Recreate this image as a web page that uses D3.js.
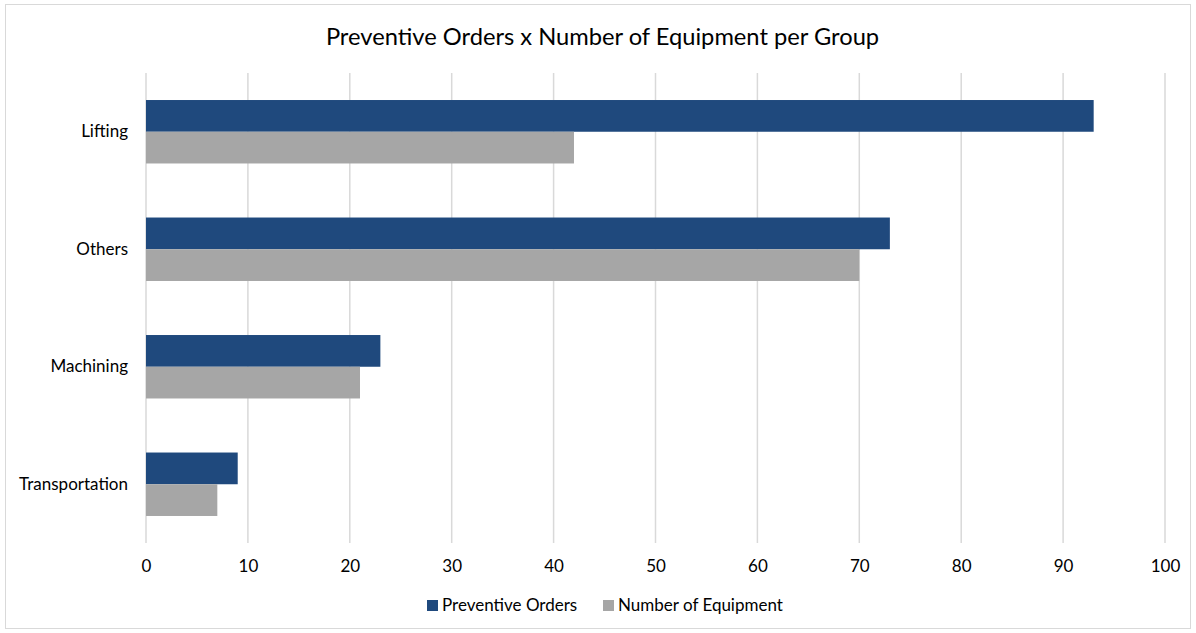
<!DOCTYPE html>
<html>
<head>
<meta charset="utf-8">
<script src="https://cdn.jsdelivr.net/npm/d3@7"></script>
<style>
  html, body { margin: 0; padding: 0; background: #fff; }
  svg { display: block; font-family: "Lato", "Open Sans", sans-serif; }
</style>
</head>
<body>
<svg id="chart" width="1196" height="633"></svg>
<script>
// Groups, top to bottom
const categories = ["Lifting", "Others", "Machining", "Transportation"];
const seriesNames = ["Preventive Orders", "Number of Equipment"];
const preventiveOrders = [93, 73, 23, 9];
const numberOfEquipment = [42, 70, 21, 7];
const xTicks = [0, 10, 20, 30, 40, 50, 60, 70, 80, 90, 100];
const seriesColors = ["#1f497d", "#a6a6a6"];

const svg = d3.select("#chart");
const W = 1196, H = 633;
const plot = { left: 146, right: 1165, top: 73, bottom: 543 };

// chart frame
svg.append("rect")
  .attr("x", 5.5).attr("y", 4.5)
  .attr("width", W - 11).attr("height", H - 9)
  .attr("fill", "#fff").attr("stroke", "#d9d9d9").attr("stroke-width", 1);

svg.append("text")
  .attr("x", 602.5).attr("y", 45)
  .attr("text-anchor", "middle")
  .attr("font-size", 23.7).attr("fill", "#000")
  .text("Preventive Orders x Number of Equipment per Group");

const x = d3.scaleLinear().domain([0, 100]).range([plot.left, plot.right]);
const y = d3.scaleBand().domain(categories).range([plot.top, plot.bottom]).paddingInner(0.46).paddingOuter(0.23);
const sub = d3.scaleBand().domain(seriesNames).range([0, y.bandwidth()]);

// vertical gridlines
svg.append("g").selectAll("line").data(xTicks).join("line")
  .attr("x1", d => x(d)).attr("x2", d => x(d))
  .attr("y1", plot.top).attr("y2", plot.bottom)
  .attr("stroke", "#d9d9d9").attr("stroke-width", 1.5);

// x tick labels
const xAxis = d3.axisBottom(x).tickValues(xTicks).tickSize(0).tickPadding(0);
const gx = svg.append("g").attr("transform", `translate(0,${plot.bottom + 29})`).call(xAxis);
gx.select(".domain").remove();
gx.selectAll("text").attr("font-size", 17).attr("fill", "#000")
  .attr("font-family", "Lato, 'Open Sans', sans-serif").attr("dy", 0);

// y category labels
const yAxis = d3.axisLeft(y).tickSize(0).tickPadding(18);
const gy = svg.append("g").attr("transform", `translate(${plot.left},0)`).call(yAxis);
gy.select(".domain").remove();
gy.selectAll("text").attr("font-size", 17).attr("fill", "#000")
  .attr("font-family", "Lato, 'Open Sans', sans-serif");

// bars
const rows = categories.map((c, i) => ({ cat: c, vals: [preventiveOrders[i], numberOfEquipment[i]] }));
const groups = svg.append("g").selectAll("g").data(rows).join("g")
  .attr("transform", d => `translate(0,${y(d.cat)})`);
groups.selectAll("rect").data(d => d.vals.map((v, j) => ({ v, s: seriesNames[j], j })))
  .join("rect")
  .attr("x", x(0))
  .attr("y", d => sub(d.s))
  .attr("width", d => x(d.v) - x(0))
  .attr("height", sub.bandwidth())
  .attr("fill", d => seriesColors[d.j]);

// legend
const legendItems = [
  { name: seriesNames[0], color: seriesColors[0], x: 427 },
  { name: seriesNames[1], color: seriesColors[1], x: 603 }
];
const lg = svg.append("g");
legendItems.forEach(it => {
  lg.append("rect").attr("x", it.x).attr("y", 600).attr("width", 11).attr("height", 11).attr("fill", it.color);
  lg.append("text").attr("x", it.x + 15).attr("y", 611)
    .attr("font-size", 17).attr("fill", "#000").text(it.name);
});
</script>
</body>
</html>
